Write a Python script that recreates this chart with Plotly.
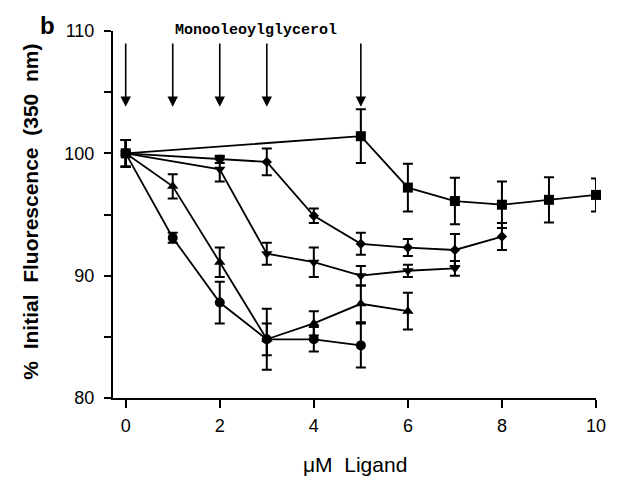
import plotly.graph_objects as go

# Data
x_circle = [0, 1, 2, 3, 4, 5]
y_circle = [100, 93.1, 87.8, 84.8, 84.8, 84.3]
e_circle = [1.1, 0.4, 1.7, 2.5, 1.0, 1.8]

x_tri_up = [0, 1, 2, 3, 4, 5, 6]
y_tri_up = [100, 97.3, 91.1, 84.8, 86.1, 87.7, 87.1]
e_tri_up = [1.1, 1.0, 1.2, 1.3, 1.0, 1.5, 1.5]

x_tri_down = [0, 2, 3, 4, 5, 6, 7]
y_tri_down = [100, 98.7, 91.8, 91.1, 90.0, 90.4, 90.6]
e_tri_down = [1.1, 1.0, 0.9, 1.2, 0.8, 0.5, 0.6]

x_diamond = [0, 2, 3, 4, 5, 6, 7, 8]
y_diamond = [100, 99.5, 99.3, 94.9, 92.6, 92.3, 92.1, 93.2]
e_diamond = [1.1, 0.3, 1.1, 0.6, 0.9, 0.7, 1.3, 1.1]

x_square = [0, 5, 6, 7, 8, 9, 10]
y_square = [100, 101.4, 97.2, 96.1, 95.8, 96.2, 96.6]
e_square = [1.1, 2.2, 1.95, 1.9, 1.9, 1.85, 1.35]

arrow_x = [0, 1, 2, 3, 5]
arrow_top = 109.1
arrow_tip = 103.8

x_ticks = [0, 2, 4, 6, 8, 10]
y_ticks = [80, 85, 90, 95, 100, 105, 110]
y_ticktext = ["80", "", "90", "", "100", "", "110"]

series = [
    (x_circle, y_circle, e_circle, "circle", 10),
    (x_tri_up, y_tri_up, e_tri_up, "triangle-up", 10),
    (x_tri_down, y_tri_down, e_tri_down, "triangle-down", 10),
    (x_diamond, y_diamond, e_diamond, "diamond", 8),
    (x_square, y_square, e_square, "square", 10),
]

W, H = 618, 478
ML, MR, MT, MB = 113, 12, 31, 80
PW, PH = W - ML - MR, H - MT - MB


def px_to_paper_x(px):
    return (px - ML) / PW


def px_to_paper_y(py):
    return (H - MB - py) / PH


fig = go.Figure()
for xs, ys, es, sym, sz in series:
    fig.add_trace(go.Scatter(
        x=xs, y=ys, mode="lines+markers",
        line=dict(color="black", width=1.8),
        marker=dict(symbol=sym, size=sz, color="black"),
        error_y=dict(type="data", array=es, visible=True,
                     color="black", thickness=2, width=5),
        showlegend=False, cliponaxis=False,
    ))

for xa in arrow_x:
    fig.add_annotation(
        x=xa, y=arrow_tip, ax=xa, ay=arrow_top,
        xref="x", yref="y", axref="x", ayref="y",
        text="", showarrow=True, arrowhead=2, arrowsize=1.3,
        arrowwidth=1.6, arrowcolor="black", standoff=0, startstandoff=0,
    )

fig.add_annotation(
    x=px_to_paper_x(259), y=px_to_paper_y(30), xref="paper", yref="paper",
    text="Monooleoylglycerol",
    showarrow=False, xanchor="center", yanchor="middle",
    font=dict(family="Liberation Mono", size=15, color="black", weight="bold"),
)

fig.add_annotation(
    x=px_to_paper_x(46), y=px_to_paper_y(26), xref="paper", yref="paper", text="b",
    showarrow=False, xanchor="center", yanchor="middle",
    font=dict(family="Liberation Sans", size=24, color="black", weight="bold"),
)

fig.add_annotation(
    x=px_to_paper_x(29), y=px_to_paper_y(212), xref="paper", yref="paper",
    text="%  Initial  Fluorescence  (350  nm)", textangle=-90,
    showarrow=False, xanchor="center", yanchor="middle",
    font=dict(family="Liberation Sans", size=21, color="black", weight="bold"),
)

fig.add_annotation(
    x=px_to_paper_x(360), y=px_to_paper_y(465), xref="paper", yref="paper",
    text="μM  Ligand", showarrow=False,
    xanchor="center", yanchor="middle",
    font=dict(family="Liberation Sans", size=21, color="black"),
)

fig.update_layout(
    width=W, height=H,
    margin=dict(l=ML, r=MR, t=MT, b=MB),
    paper_bgcolor="white", plot_bgcolor="white",
    font=dict(family="Liberation Sans", size=18, color="black"),
    xaxis=dict(range=[-0.27, 10], tickvals=x_ticks, ticks="outside",
               ticklen=8, tickwidth=1.6, tickcolor="black",
               showline=True, linecolor="black", linewidth=2,
               showgrid=False, zeroline=False, ticklabelstandoff=2,
               tickfont=dict(size=18)),
    yaxis=dict(range=[80, 110], tickvals=y_ticks, ticktext=y_ticktext,
               ticks="outside", ticklen=7, tickwidth=1.6, tickcolor="black",
               showline=True, linecolor="black", linewidth=2,
               showgrid=False, zeroline=False, ticklabelstandoff=6,
               tickfont=dict(size=18)),
)
fig.write_html("out.html")
